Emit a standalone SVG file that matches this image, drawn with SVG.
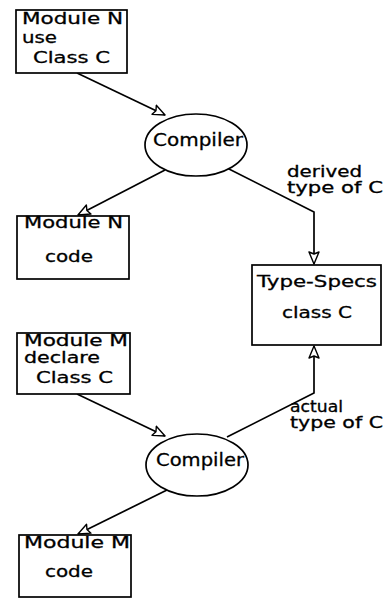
<svg xmlns="http://www.w3.org/2000/svg" width="387" height="598" viewBox="0 0 387 598">
<style>
.box{fill:#fff;stroke:#000;stroke-width:1.7}
.ell{fill:#fff;stroke:#000;stroke-width:1.7}
.t{font-family:"DejaVu Sans",sans-serif;font-size:16px;fill:#000;stroke:#000;stroke-width:0.3}
.s{font-size:15px}
.big{font-size:17px}
.c{fill:none;stroke:#000;stroke-width:1.7}
</style>
<defs>
<marker id="ah" viewBox="0 0 14 12" refX="13" refY="6" markerWidth="14" markerHeight="12" markerUnits="userSpaceOnUse" orient="auto">
<path d="M1,1 L13,6 L1,11 L3,6 z" fill="#fff" stroke="#000" stroke-width="1.4" stroke-linejoin="round"/>
</marker>
</defs>
<rect width="387" height="598" fill="#fff"/>
<g id="connectors">
<path class="c" d="M77,73 L165,115" marker-end="url(#ah)"/>
<path class="c" d="M165,170 L78,215" marker-end="url(#ah)"/>
<path class="c" d="M227,168 L314,212 L314,264" marker-end="url(#ah)"/>
<path class="c" d="M227,437 L314,393 L314,346" marker-end="url(#ah)"/>
<path class="c" d="M77,394 L165,436" marker-end="url(#ah)"/>
<path class="c" d="M167,490 L78,534" marker-end="url(#ah)"/>
</g>
<g id="moduleN-use">
<rect class="box" x="16" y="10" width="111" height="63"/>
<text class="t" x="22" y="24" textLength="101" lengthAdjust="spacingAndGlyphs">Module N</text>
<text class="t" x="22" y="43" textLength="35" lengthAdjust="spacingAndGlyphs">use</text>
<text class="t" x="33" y="63" textLength="77" lengthAdjust="spacingAndGlyphs">Class C</text>
</g>
<g id="compiler1">
<ellipse class="ell" cx="196" cy="145" rx="51" ry="31"/>
<text class="t big" x="153" y="146" textLength="90" lengthAdjust="spacingAndGlyphs">Compiler</text>
</g>
<g id="moduleN-code">
<rect class="box" x="17" y="216" width="112" height="63"/>
<text class="t" x="24" y="228" textLength="99" lengthAdjust="spacingAndGlyphs">Module N</text>
<text class="t" x="45" y="262" textLength="48" lengthAdjust="spacingAndGlyphs">code</text>
</g>
<g id="derived-label">
<text class="t s" x="287" y="177" textLength="75" lengthAdjust="spacingAndGlyphs">derived</text>
<text class="t s" x="287" y="193" textLength="96" lengthAdjust="spacingAndGlyphs">type of C</text>
</g>
<g id="type-specs">
<rect class="box" x="252" y="265" width="129" height="80"/>
<text class="t" x="257" y="287" textLength="120" lengthAdjust="spacingAndGlyphs">Type-Specs</text>
<text class="t" x="282" y="318" textLength="70" lengthAdjust="spacingAndGlyphs">class C</text>
</g>
<g id="moduleM-declare">
<rect class="box" x="17" y="333" width="113" height="61"/>
<text class="t s" x="24" y="346" textLength="104" lengthAdjust="spacingAndGlyphs">Module M</text>
<text class="t s" x="24" y="363" textLength="76" lengthAdjust="spacingAndGlyphs">declare</text>
<text class="t" x="36" y="383" textLength="77" lengthAdjust="spacingAndGlyphs">Class C</text>
</g>
<g id="actual-label">
<text class="t s" x="290" y="412" textLength="53" lengthAdjust="spacingAndGlyphs">actual</text>
<text class="t s" x="290" y="428" textLength="93" lengthAdjust="spacingAndGlyphs">type of C</text>
</g>
<g id="compiler2">
<ellipse class="ell" cx="197" cy="465" rx="51" ry="31"/>
<text class="t big" x="156" y="466" textLength="88" lengthAdjust="spacingAndGlyphs">Compiler</text>
</g>
<g id="moduleM-code">
<rect class="box" x="19" y="535" width="112" height="62"/>
<text class="t" x="24" y="548" textLength="106" lengthAdjust="spacingAndGlyphs">Module M</text>
<text class="t" x="45" y="577" textLength="48" lengthAdjust="spacingAndGlyphs">code</text>
</g>
</svg>
